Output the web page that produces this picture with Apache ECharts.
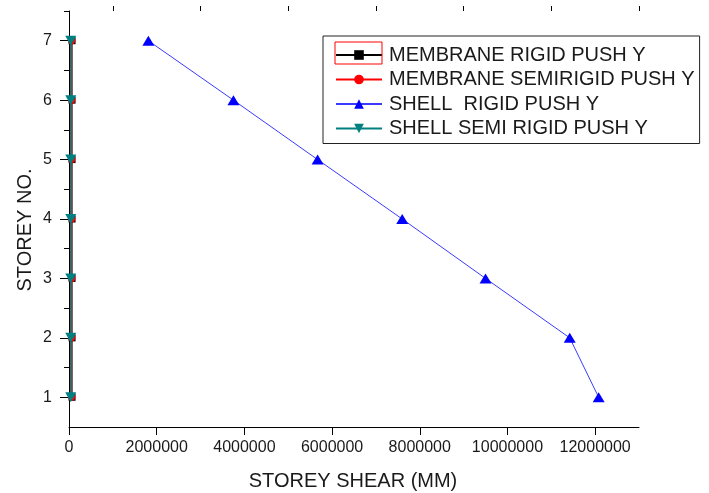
<!DOCTYPE html>
<html>
<head>
<meta charset="utf-8">
<script src="https://cdn.jsdelivr.net/npm/echarts@6/dist/echarts.min.js"></script>
<style>
  html, body { margin: 0; padding: 0; background: #fff; }
  #chart { width: 709px; height: 493px; }
</style>
</head>
<body>
<div id="chart"></div>
<script>
// Storey numbers (y) and storey shear per model (x)
const storeys = [1, 2, 3, 4, 5, 6, 7];
const membraneRigid = [70000, 70000, 70000, 70000, 70000, 70000, 70000];
const membraneSemiRigid = [60000, 60000, 60000, 60000, 60000, 60000, 60000];
const shellRigid = [12080000, 11420000, 9500000, 7600000, 5670000, 3750000, 1810000];
const shellSemiRigid = [40000, 40000, 40000, 40000, 40000, 40000, 40000];

const seriesNames = [
  'MEMBRANE RIGID PUSH Y',
  'MEMBRANE SEMIRIGID PUSH Y',
  'SHELL  RIGID PUSH Y',
  'SHELL SEMI RIGID PUSH Y'
];

const xMajorTicks = [0, 2000000, 4000000, 6000000, 8000000, 10000000, 12000000];
const xMinorTicks = [1000000, 3000000, 5000000, 7000000, 9000000, 11000000, 13000000];
const yMajorTicks = [1, 2, 3, 4, 5, 6, 7];
const yMinorTicks = [1.5, 2.5, 3.5, 4.5, 5.5, 6.5, 7.5];

const pairs = (xs) => xs.map((x, i) => [x, storeys[i]]);

const FONT = 'Liberation Sans, Arial, sans-serif';
const INK = '#1a1a1a';

const chart = echarts.init(document.getElementById('chart'));

const xBase = {
  type: 'value', min: 0, max: 13000000,
  axisLine: { show: true, onZero: false, lineStyle: { color: '#000', width: 1 } },
  splitLine: { show: false }
};
const yBase = {
  type: 'value', min: 0.5, max: 7.5,
  axisLine: { show: true, onZero: false, lineStyle: { color: '#000', width: 1 } },
  splitLine: { show: false }
};

chart.setOption({
  animation: false,
  backgroundColor: '#fff',
  grid: { left: 69, right: 70, top: 11, bottom: 66 },
  xAxis: [
    Object.assign({}, xBase, {
      axisTick: { show: true, length: 8, customValues: xMajorTicks, lineStyle: { color: '#000' } },
      axisLabel: { customValues: xMajorTicks, margin: 13, fontFamily: FONT, fontSize: 16, color: INK,
                   formatter: (v) => String(v) }
    }),
    Object.assign({}, xBase, {
      axisLine: { show: false },
      axisTick: { show: true, length: 5, customValues: xMinorTicks, lineStyle: { color: '#000' } },
      axisLabel: { show: false }
    })
  ],
  yAxis: [
    Object.assign({}, yBase, {
      axisTick: { show: true, length: 9, customValues: yMajorTicks, lineStyle: { color: '#000' } },
      axisLabel: { customValues: yMajorTicks, margin: 17, fontFamily: FONT, fontSize: 16, color: INK }
    }),
    Object.assign({}, yBase, {
      position: 'left',
      axisLine: { show: false },
      axisTick: { show: true, length: 5, customValues: yMinorTicks, lineStyle: { color: '#000' } },
      axisLabel: { show: false }
    })
  ],
  legend: {
    orient: 'vertical',
    left: 323, top: 36,
    padding: [9, 5, 5, 12],
    itemWidth: 46, itemHeight: 12, itemGap: 4.5,
    borderColor: '#222', borderWidth: 1,
    textStyle: { fontFamily: FONT, fontSize: 20, lineHeight: 20, color: INK, padding: [0, 0, 0, 2] },
    data: seriesNames
  },
  series: [
    {
      name: seriesNames[0], type: 'line', data: pairs(membraneRigid),
      symbol: 'rect', symbolSize: 7,
      itemStyle: { color: '#000' }, lineStyle: { color: '#000', width: 1 }
    },
    {
      name: seriesNames[1], type: 'line', data: pairs(membraneSemiRigid),
      symbol: 'circle', symbolSize: 7,
      itemStyle: { color: '#ff0000' }, lineStyle: { color: '#ff0000', width: 1 }
    },
    {
      name: seriesNames[2], type: 'line', data: pairs(shellRigid),
      symbol: 'triangle', symbolSize: [12, 10],
      itemStyle: { color: '#0000ff' }, lineStyle: { color: '#3b3bff', width: 1 }
    },
    {
      name: seriesNames[3], type: 'line', data: pairs(shellSemiRigid),
      symbol: 'triangle', symbolRotate: 180, symbolSize: [11, 10],
      itemStyle: { color: '#008080' }, lineStyle: { color: '#008080', width: 1.5 }
    }
  ],
  graphic: [
    { type: 'rect', shape: { x: 335, y: 42, width: 47, height: 22 },
      style: { fill: 'none', stroke: '#ff0000', lineWidth: 1 }, z: 100 },
    { type: 'text', x: 25, y: 230, rotation: Math.PI / 2,
      style: { text: 'STOREY NO.', font: '20px ' + FONT, fill: INK, align: 'center', verticalAlign: 'middle' } },
    { type: 'text', x: 353, y: 481,
      style: { text: 'STOREY SHEAR (MM)', font: '20px ' + FONT, fill: INK, align: 'center', verticalAlign: 'middle' } }
  ]
});
</script>
</body>
</html>
